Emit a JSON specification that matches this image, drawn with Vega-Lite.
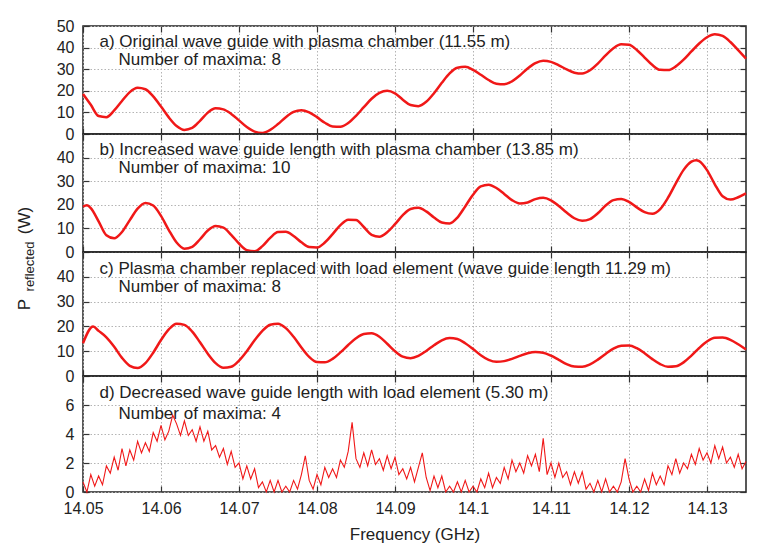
{
"$schema": "https://vega.github.io/schema/vega-lite/v6.json",
"padding": {"left": 14, "top": 17, "right": 0, "bottom": 0},
"background": "white",
"spacing": 0,
"bounds": "flush",
"datasets": {
"a": [{"f":14.050,"v":18.5},{"f":14.051,"v":13.5},{"f":14.052,"v":8.3},{"f":14.053,"v":7.8},{"f":14.054,"v":10.9},{"f":14.055,"v":15.3},{"f":14.056,"v":19.4},{"f":14.057,"v":21.4},{"f":14.058,"v":20.7},{"f":14.059,"v":17.4},{"f":14.060,"v":12.7},{"f":14.061,"v":7.7},{"f":14.062,"v":3.7},{"f":14.063,"v":1.9},{"f":14.064,"v":2.8},{"f":14.065,"v":6.1},{"f":14.066,"v":9.9},{"f":14.067,"v":11.9},{"f":14.068,"v":11.4},{"f":14.069,"v":9.3},{"f":14.070,"v":6.3},{"f":14.071,"v":3.2},{"f":14.072,"v":1.1},{"f":14.073,"v":0.5},{"f":14.074,"v":1.9},{"f":14.075,"v":4.6},{"f":14.076,"v":7.8},{"f":14.077,"v":10.2},{"f":14.078,"v":11.0},{"f":14.079,"v":10.0},{"f":14.080,"v":7.8},{"f":14.081,"v":5.2},{"f":14.082,"v":3.5},{"f":14.083,"v":3.4},{"f":14.084,"v":5.1},{"f":14.085,"v":8.4},{"f":14.086,"v":12.4},{"f":14.087,"v":16.3},{"f":14.088,"v":19.0},{"f":14.089,"v":20.0},{"f":14.090,"v":18.8},{"f":14.091,"v":15.9},{"f":14.092,"v":13.4},{"f":14.093,"v":12.9},{"f":14.094,"v":14.9},{"f":14.095,"v":18.9},{"f":14.096,"v":23.7},{"f":14.097,"v":28.1},{"f":14.098,"v":30.7},{"f":14.099,"v":31.1},{"f":14.100,"v":29.7},{"f":14.101,"v":27.4},{"f":14.102,"v":25.0},{"f":14.103,"v":23.3},{"f":14.104,"v":23.0},{"f":14.105,"v":24.4},{"f":14.106,"v":27.1},{"f":14.107,"v":30.3},{"f":14.108,"v":32.8},{"f":14.109,"v":33.9},{"f":14.110,"v":33.4},{"f":14.111,"v":31.8},{"f":14.112,"v":29.9},{"f":14.113,"v":28.4},{"f":14.114,"v":28.0},{"f":14.115,"v":29.5},{"f":14.116,"v":32.6},{"f":14.117,"v":36.4},{"f":14.118,"v":39.7},{"f":14.119,"v":41.5},{"f":14.120,"v":41.3},{"f":14.121,"v":38.9},{"f":14.122,"v":35.4},{"f":14.123,"v":31.9},{"f":14.124,"v":29.7},{"f":14.125,"v":29.6},{"f":14.126,"v":31.3},{"f":14.127,"v":34.4},{"f":14.128,"v":38.2},{"f":14.129,"v":41.9},{"f":14.130,"v":44.8},{"f":14.131,"v":46.2},{"f":14.132,"v":45.4},{"f":14.133,"v":42.6},{"f":14.134,"v":38.8},{"f":14.135,"v":34.9}],
"b": [{"f":14.050,"v":19.2},{"f":14.0505,"v":19.8},{"f":14.051,"v":18.6},{"f":14.052,"v":13.0},{"f":14.053,"v":7.1},{"f":14.054,"v":5.8},{"f":14.055,"v":8.5},{"f":14.056,"v":13.5},{"f":14.057,"v":18.4},{"f":14.058,"v":20.8},{"f":14.059,"v":19.7},{"f":14.060,"v":15.3},{"f":14.061,"v":9.3},{"f":14.062,"v":4.0},{"f":14.063,"v":1.4},{"f":14.064,"v":2.2},{"f":14.065,"v":5.4},{"f":14.066,"v":9.1},{"f":14.067,"v":11.0},{"f":14.068,"v":10.3},{"f":14.069,"v":7.3},{"f":14.070,"v":3.6},{"f":14.071,"v":0.8},{"f":14.072,"v":0.3},{"f":14.073,"v":2.5},{"f":14.074,"v":6.0},{"f":14.075,"v":8.5},{"f":14.076,"v":8.6},{"f":14.077,"v":6.8},{"f":14.078,"v":4.1},{"f":14.079,"v":2.1},{"f":14.080,"v":1.9},{"f":14.081,"v":4.0},{"f":14.082,"v":7.6},{"f":14.083,"v":11.4},{"f":14.084,"v":13.7},{"f":14.085,"v":13.6},{"f":14.086,"v":10.6},{"f":14.087,"v":7.3},{"f":14.088,"v":6.5},{"f":14.089,"v":8.4},{"f":14.090,"v":11.8},{"f":14.091,"v":15.6},{"f":14.092,"v":18.2},{"f":14.093,"v":18.7},{"f":14.094,"v":17.2},{"f":14.095,"v":14.6},{"f":14.096,"v":12.5},{"f":14.097,"v":12.1},{"f":14.098,"v":14.6},{"f":14.099,"v":19.3},{"f":14.100,"v":24.3},{"f":14.101,"v":27.8},{"f":14.102,"v":28.5},{"f":14.103,"v":27.1},{"f":14.104,"v":24.6},{"f":14.105,"v":22.0},{"f":14.106,"v":20.6},{"f":14.107,"v":21.0},{"f":14.108,"v":22.4},{"f":14.109,"v":23.0},{"f":14.110,"v":21.9},{"f":14.111,"v":19.5},{"f":14.112,"v":16.7},{"f":14.113,"v":14.3},{"f":14.114,"v":13.2},{"f":14.115,"v":13.9},{"f":14.116,"v":16.4},{"f":14.117,"v":19.7},{"f":14.118,"v":22.0},{"f":14.119,"v":22.5},{"f":14.120,"v":21.2},{"f":14.121,"v":18.9},{"f":14.122,"v":16.9},{"f":14.123,"v":16.2},{"f":14.124,"v":18.2},{"f":14.125,"v":23.0},{"f":14.126,"v":29.1},{"f":14.127,"v":34.8},{"f":14.128,"v":38.3},{"f":14.1286,"v":38.9},{"f":14.129,"v":38.5},{"f":14.130,"v":34.7},{"f":14.131,"v":28.7},{"f":14.132,"v":23.6},{"f":14.133,"v":22.2},{"f":14.134,"v":23.2},{"f":14.135,"v":24.8}],
"c": [{"f":14.050,"v":13.2},{"f":14.0513,"v":20.0},{"f":14.052,"v":18.2},{"f":14.053,"v":15.6},{"f":14.054,"v":11.8},{"f":14.055,"v":7.3},{"f":14.056,"v":4.1},{"f":14.057,"v":3.2},{"f":14.058,"v":5.2},{"f":14.059,"v":9.4},{"f":14.060,"v":14.5},{"f":14.061,"v":18.8},{"f":14.062,"v":21.1},{"f":14.063,"v":20.6},{"f":14.064,"v":17.9},{"f":14.065,"v":13.6},{"f":14.066,"v":9.0},{"f":14.067,"v":5.2},{"f":14.068,"v":3.3},{"f":14.069,"v":3.7},{"f":14.070,"v":6.2},{"f":14.071,"v":10.0},{"f":14.072,"v":14.4},{"f":14.073,"v":18.2},{"f":14.074,"v":20.7},{"f":14.075,"v":21.1},{"f":14.076,"v":19.3},{"f":14.077,"v":15.8},{"f":14.078,"v":11.5},{"f":14.079,"v":7.7},{"f":14.080,"v":5.6},{"f":14.081,"v":5.5},{"f":14.082,"v":6.9},{"f":14.083,"v":9.5},{"f":14.084,"v":12.5},{"f":14.085,"v":15.2},{"f":14.086,"v":16.9},{"f":14.087,"v":17.2},{"f":14.088,"v":15.8},{"f":14.089,"v":13.0},{"f":14.090,"v":10.0},{"f":14.091,"v":7.8},{"f":14.092,"v":7.2},{"f":14.093,"v":8.1},{"f":14.094,"v":10.1},{"f":14.095,"v":12.4},{"f":14.096,"v":14.4},{"f":14.097,"v":15.3},{"f":14.098,"v":14.9},{"f":14.099,"v":13.2},{"f":14.100,"v":10.9},{"f":14.101,"v":8.4},{"f":14.102,"v":6.5},{"f":14.103,"v":5.7},{"f":14.104,"v":6.0},{"f":14.105,"v":6.9},{"f":14.106,"v":8.1},{"f":14.107,"v":9.2},{"f":14.108,"v":9.7},{"f":14.109,"v":9.4},{"f":14.110,"v":8.2},{"f":14.111,"v":6.5},{"f":14.112,"v":4.8},{"f":14.113,"v":3.8},{"f":14.114,"v":3.7},{"f":14.115,"v":4.7},{"f":14.116,"v":6.6},{"f":14.117,"v":8.9},{"f":14.118,"v":11.0},{"f":14.119,"v":12.2},{"f":14.120,"v":12.3},{"f":14.121,"v":11.2},{"f":14.122,"v":9.2},{"f":14.123,"v":6.8},{"f":14.124,"v":4.8},{"f":14.125,"v":3.7},{"f":14.126,"v":3.9},{"f":14.127,"v":5.5},{"f":14.128,"v":8.2},{"f":14.129,"v":11.3},{"f":14.130,"v":13.9},{"f":14.131,"v":15.4},{"f":14.132,"v":15.5},{"f":14.133,"v":14.6},{"f":14.134,"v":12.8},{"f":14.135,"v":10.7}],
"d": [{"f":14.0500,"v":0.7},{"f":14.0505,"v":0},{"f":14.0510,"v":1.2},{"f":14.0515,"v":0.4},{"f":14.0520,"v":1.1},{"f":14.0525,"v":0.5},{"f":14.0530,"v":1.8},{"f":14.0535,"v":1.3},{"f":14.0540,"v":2.4},{"f":14.0545,"v":1.5},{"f":14.0550,"v":3.0},{"f":14.0555,"v":1.8},{"f":14.0560,"v":2.9},{"f":14.0565,"v":2.2},{"f":14.0570,"v":3.5},{"f":14.0575,"v":2.7},{"f":14.0580,"v":3.4},{"f":14.0585,"v":2.8},{"f":14.0590,"v":4.1},{"f":14.0595,"v":3.5},{"f":14.0600,"v":4.6},{"f":14.0605,"v":3.6},{"f":14.0610,"v":4.2},{"f":14.0615,"v":5.3},{"f":14.0620,"v":4.7},{"f":14.0625,"v":3.9},{"f":14.0630,"v":4.9},{"f":14.0635,"v":3.9},{"f":14.0640,"v":4.3},{"f":14.0645,"v":3.5},{"f":14.0650,"v":4.5},{"f":14.0655,"v":3.5},{"f":14.0660,"v":4.2},{"f":14.0665,"v":2.9},{"f":14.0670,"v":3.2},{"f":14.0675,"v":2.4},{"f":14.0680,"v":3.0},{"f":14.0685,"v":1.9},{"f":14.0690,"v":2.8},{"f":14.0695,"v":1.7},{"f":14.0700,"v":2.0},{"f":14.0705,"v":0.9},{"f":14.0710,"v":1.8},{"f":14.0715,"v":0.9},{"f":14.0720,"v":1.6},{"f":14.0725,"v":0.3},{"f":14.0730,"v":0.7},{"f":14.0735,"v":0},{"f":14.0740,"v":0.8},{"f":14.0745,"v":0},{"f":14.0750,"v":0.8},{"f":14.0755,"v":0},{"f":14.0760,"v":0.4},{"f":14.0765,"v":0},{"f":14.0770,"v":0.8},{"f":14.0775,"v":0.2},{"f":14.0780,"v":1.2},{"f":14.0785,"v":2.5},{"f":14.0790,"v":0.8},{"f":14.0795,"v":0.2},{"f":14.0800,"v":1.2},{"f":14.0805,"v":0.5},{"f":14.0810,"v":1.7},{"f":14.0815,"v":1.0},{"f":14.0820,"v":1.6},{"f":14.0825,"v":1.0},{"f":14.0830,"v":2.2},{"f":14.0835,"v":1.7},{"f":14.0840,"v":2.8},{"f":14.0845,"v":4.8},{"f":14.0850,"v":2.3},{"f":14.0855,"v":1.7},{"f":14.0860,"v":2.7},{"f":14.0865,"v":1.8},{"f":14.0870,"v":2.9},{"f":14.0875,"v":1.9},{"f":14.0880,"v":2.3},{"f":14.0885,"v":1.5},{"f":14.0890,"v":2.5},{"f":14.0895,"v":1.6},{"f":14.0900,"v":2.4},{"f":14.0905,"v":1.2},{"f":14.0910,"v":1.6},{"f":14.0915,"v":0.9},{"f":14.0920,"v":1.7},{"f":14.0925,"v":0.7},{"f":14.0930,"v":1.7},{"f":14.0935,"v":2.7},{"f":14.0940,"v":1.0},{"f":14.0945,"v":0.1},{"f":14.0950,"v":1.1},{"f":14.0955,"v":0.3},{"f":14.0960,"v":1.1},{"f":14.0965,"v":0},{"f":14.0970,"v":0.4},{"f":14.0975,"v":0},{"f":14.0980,"v":0.7},{"f":14.0985,"v":0},{"f":14.0990,"v":0.8},{"f":14.0995,"v":0},{"f":14.1000,"v":0.4},{"f":14.1005,"v":0},{"f":14.1010,"v":0.9},{"f":14.1015,"v":0.3},{"f":14.1020,"v":1.3},{"f":14.1025,"v":0.3},{"f":14.1030,"v":1.0},{"f":14.1035,"v":0.6},{"f":14.1040,"v":1.7},{"f":14.1045,"v":0.9},{"f":14.1050,"v":2.2},{"f":14.1055,"v":1.4},{"f":14.1060,"v":2.0},{"f":14.1065,"v":1.3},{"f":14.1070,"v":2.5},{"f":14.1075,"v":1.8},{"f":14.1080,"v":2.6},{"f":14.1085,"v":1.4},{"f":14.1090,"v":3.7},{"f":14.1095,"v":1.2},{"f":14.1100,"v":2.0},{"f":14.1105,"v":1.0},{"f":14.1110,"v":2.0},{"f":14.1115,"v":1.0},{"f":14.1120,"v":1.4},{"f":14.1125,"v":0.5},{"f":14.1130,"v":1.4},{"f":14.1135,"v":0.6},{"f":14.1140,"v":1.4},{"f":14.1145,"v":0.2},{"f":14.1150,"v":0.6},{"f":14.1155,"v":0},{"f":14.1160,"v":0.8},{"f":14.1165,"v":0},{"f":14.1170,"v":0.9},{"f":14.1175,"v":0},{"f":14.1180,"v":0.4},{"f":14.1185,"v":0},{"f":14.1190,"v":0.7},{"f":14.1195,"v":2.3},{"f":14.1200,"v":0.9},{"f":14.1205,"v":0},{"f":14.1210,"v":0.4},{"f":14.1215,"v":0},{"f":14.1220,"v":0.9},{"f":14.1225,"v":0.1},{"f":14.1230,"v":1.3},{"f":14.1235,"v":0.5},{"f":14.1240,"v":1.1},{"f":14.1245,"v":0.5},{"f":14.1250,"v":1.8},{"f":14.1255,"v":1.2},{"f":14.1260,"v":2.3},{"f":14.1265,"v":1.3},{"f":14.1270,"v":2.0},{"f":14.1275,"v":1.6},{"f":14.1280,"v":2.6},{"f":14.1285,"v":1.9},{"f":14.1290,"v":3.0},{"f":14.1295,"v":2.2},{"f":14.1300,"v":2.7},{"f":14.1305,"v":2.0},{"f":14.1310,"v":3.2},{"f":14.1315,"v":2.3},{"f":14.1320,"v":3.1},{"f":14.1325,"v":2.0},{"f":14.1330,"v":2.4},{"f":14.1335,"v":1.7},{"f":14.1340,"v":2.6},{"f":14.1345,"v":1.6},{"f":14.1350,"v":2.1}]
},
"vconcat": [
{
"width": 663, "height": 108,
"data": {"name": "a"},
"layer": [
{"mark": {"type": "line", "color": "#f01818", "strokeWidth": 2.5, "interpolate": "monotone"},
 "encoding": {
  "x": {"field": "f", "type": "quantitative", "scale": {"domain": [14.05, 14.135], "nice": false, "zero": false}, "axis": {"values": [14.05,14.06,14.07,14.08,14.09,14.1,14.11,14.12,14.13], "labels": false, "title": null, "grid": true}},
  "y": {"field": "v", "type": "quantitative", "scale": {"domain": [0, 50], "nice": false}, "axis": {"values": [0,10,20,30,40,50], "grid": true, "labelPadding": 15, "title": "(W)", "titleX": -54, "titleY": 194, "titleAngle": -90, "titleAlign": "center", "titleBaseline": "alphabetic", "titleFontSize": 17}}}},
{"mark": {"type": "line", "strokeOpacity": 0},
 "encoding": {
  "x": {"field": "f", "type": "quantitative", "axis": {"orient": "top", "values": [14.05,14.06,14.07,14.08,14.09,14.1,14.11,14.12,14.13], "labels": false, "grid": false, "title": "Number of maxima: 8", "titleX": 35, "titleY": 38, "titleAngle": 0, "titleAlign": "left", "titleBaseline": "alphabetic", "titleFontSize": 17}},
  "y": {"field": "v", "type": "quantitative", "axis": {"orient": "right", "values": [0,10,20,30,40,50], "labels": false, "grid": false, "title": "a) Original wave guide with plasma chamber (11.55 m)", "titleX": -647, "titleY": 20, "titleAngle": 0, "titleAlign": "left", "titleBaseline": "alphabetic", "titleFontSize": 17}}}}
],
"resolve": {"axis": {"x": "independent", "y": "independent"}}
},
{
"width": 663, "height": 118,
"data": {"name": "b"},
"layer": [
{"mark": {"type": "line", "color": "#f01818", "strokeWidth": 2.5, "interpolate": "monotone"},
 "encoding": {
  "x": {"field": "f", "type": "quantitative", "scale": {"domain": [14.05, 14.135], "nice": false, "zero": false}, "axis": {"values": [14.05,14.06,14.07,14.08,14.09,14.1,14.11,14.12,14.13], "labels": false, "title": null, "grid": true}},
  "y": {"field": "v", "type": "quantitative", "scale": {"domain": [0, 50], "nice": false}, "axis": {"values": [0,10,20,30,40], "grid": true, "labelPadding": 15, "title": "reflected", "titleX": -50, "titleY": 132, "titleAngle": -90, "titleAlign": "center", "titleBaseline": "alphabetic", "titleFontSize": 13}}}},
{"mark": {"type": "line", "strokeOpacity": 0},
 "encoding": {
  "x": {"field": "f", "type": "quantitative", "axis": {"orient": "top", "values": [14.05,14.06,14.07,14.08,14.09,14.1,14.11,14.12,14.13], "labels": false, "grid": false, "title": "Number of maxima: 10", "titleX": 35, "titleY": 38, "titleAngle": 0, "titleAlign": "left", "titleBaseline": "alphabetic", "titleFontSize": 17}},
  "y": {"field": "v", "type": "quantitative", "axis": {"orient": "right", "values": [0,10,20,30,40], "labels": false, "grid": false, "title": "b) Increased wave guide length with plasma chamber (13.85 m)", "titleX": -647, "titleY": 20, "titleAngle": 0, "titleAlign": "left", "titleBaseline": "alphabetic", "titleFontSize": 17}}}}
],
"resolve": {"axis": {"x": "independent", "y": "independent"}}
},
{
"width": 663, "height": 124,
"data": {"name": "c"},
"layer": [
{"mark": {"type": "line", "color": "#f01818", "strokeWidth": 2.5, "interpolate": "monotone"},
 "encoding": {
  "x": {"field": "f", "type": "quantitative", "scale": {"domain": [14.05, 14.135], "nice": false, "zero": false}, "axis": {"values": [14.05,14.06,14.07,14.08,14.09,14.1,14.11,14.12,14.13], "labels": false, "title": null, "grid": true}},
  "y": {"field": "v", "type": "quantitative", "scale": {"domain": [0, 50], "nice": false}, "axis": {"values": [0,10,20,30,40], "grid": true, "labelPadding": 15, "title": "P", "titleX": -54, "titleY": 52, "titleAngle": -90, "titleAlign": "center", "titleBaseline": "alphabetic", "titleFontSize": 17}}}},
{"mark": {"type": "line", "strokeOpacity": 0},
 "encoding": {
  "x": {"field": "f", "type": "quantitative", "axis": {"orient": "top", "values": [14.05,14.06,14.07,14.08,14.09,14.1,14.11,14.12,14.13], "labels": false, "grid": false, "title": "Number of maxima: 8", "titleX": 35, "titleY": 39, "titleAngle": 0, "titleAlign": "left", "titleBaseline": "alphabetic", "titleFontSize": 17}},
  "y": {"field": "v", "type": "quantitative", "axis": {"orient": "right", "values": [0,10,20,30,40], "labels": false, "grid": false, "title": "c) Plasma chamber replaced with load element (wave guide length 11.29 m)", "titleX": -647, "titleY": 21, "titleAngle": 0, "titleAlign": "left", "titleBaseline": "alphabetic", "titleFontSize": 17}}}}
],
"resolve": {"axis": {"x": "independent", "y": "independent"}}
},
{
"width": 663, "height": 116,
"data": {"name": "d"},
"layer": [
{"mark": {"type": "line", "color": "#f01818", "strokeWidth": 1.1},
 "encoding": {
  "x": {"field": "f", "type": "quantitative", "scale": {"domain": [14.05, 14.135], "nice": false, "zero": false}, "axis": {"values": [14.05,14.06,14.07,14.08,14.09,14.1,14.11,14.12,14.13], "format": "~g", "labelFlush": false, "labelPadding": 14, "grid": true, "title": "Frequency (GHz)", "titleFontSize": 17, "titlePadding": 10}},
  "y": {"field": "v", "type": "quantitative", "scale": {"domain": [0, 8], "nice": false}, "axis": {"values": [0,2,4,6], "grid": true, "labelPadding": 15, "title": null}}}},
{"mark": {"type": "line", "strokeOpacity": 0},
 "encoding": {
  "x": {"field": "f", "type": "quantitative", "axis": {"orient": "top", "values": [14.05,14.06,14.07,14.08,14.09,14.1,14.11,14.12,14.13], "labels": false, "grid": false, "title": "Number of maxima: 4", "titleX": 35, "titleY": 42, "titleAngle": 0, "titleAlign": "left", "titleBaseline": "alphabetic", "titleFontSize": 17}},
  "y": {"field": "v", "type": "quantitative", "axis": {"orient": "right", "values": [0,2,4,6], "labels": false, "grid": false, "title": "d) Decreased wave guide length with load element (5.30 m)", "titleX": -647, "titleY": 21, "titleAngle": 0, "titleAlign": "left", "titleBaseline": "alphabetic", "titleFontSize": 17}}}}
],
"resolve": {"axis": {"x": "independent", "y": "independent"}}
}
],
"config": {
 "font": "Liberation Sans",
 "view": {"stroke": "#222", "strokeWidth": 1.5},
 "axis": {"domain": false, "tickColor": "#333", "tickSize": -6, "tickWidth": 1.2, "gridColor": "#b4b4b4", "gridDash": [1.5, 2], "gridWidth": 1, "labelFont": "Liberation Sans", "labelFontSize": 16, "labelColor": "#222", "titleFont": "Liberation Sans", "titleFontWeight": "normal", "titleColor": "#222"}
}
}
